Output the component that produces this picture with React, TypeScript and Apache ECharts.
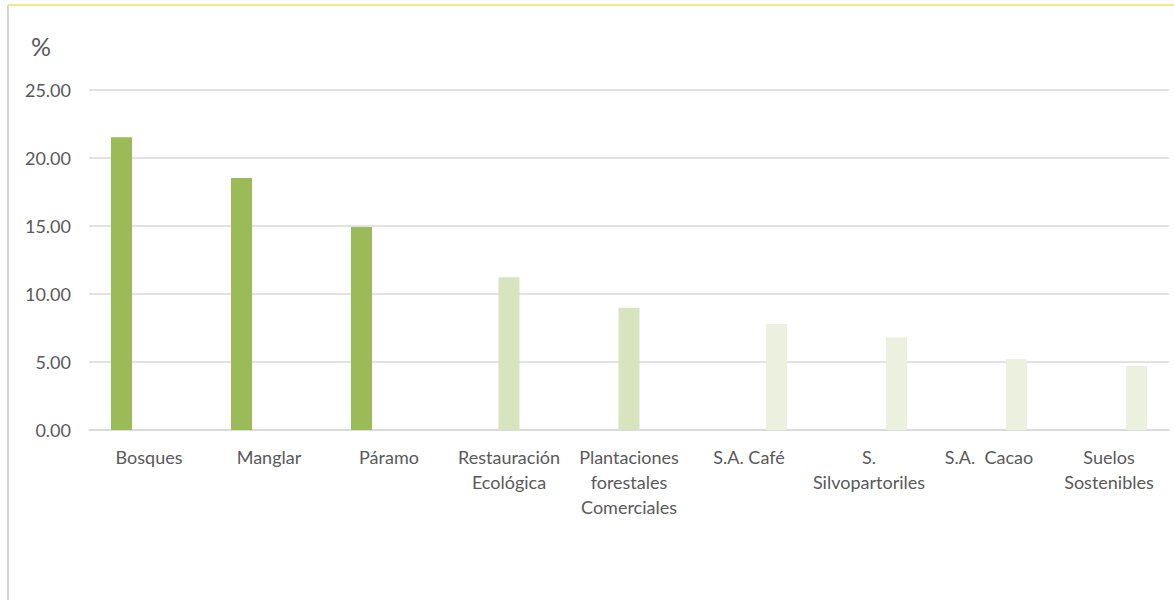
import React, { useEffect, useRef } from "react";
import * as echarts from "echarts";

const categories = [
  "Bosques",
  "Manglar",
  "Páramo",
  "Restauración\nEcológica",
  "Plantaciones\nforestales\nComerciales",
  "S.A. Café",
  "S.\nSilvopartoriles",
  "S.A.  Cacao",
  "Suelos\nSostenibles",
];

const ecosystemValues = [21.52, 18.53, 14.93, null, null, null, null, null, null];
const restorationValues = [null, null, null, 11.23, 8.99, null, null, null, null];
const productiveValues = [null, null, null, null, null, 7.79, 6.81, 5.2, 4.73];

const yTicks = { min: 0, max: 25, interval: 5 };

export default function App() {
  const ref = useRef<HTMLDivElement>(null);

  useEffect(() => {
    if (!ref.current) return;
    const chart = echarts.init(ref.current, undefined, { renderer: "svg" });
    const font = "Lato, 'Open Sans', sans-serif";
    const barCommon = {
      type: "bar" as const,
      barWidth: 21,
      barGap: "31%",
    };
    chart.setOption({
      animation: false,
      backgroundColor: "#ffffff",
      grid: { left: 89, right: 5, top: 90, bottom: 170, containLabel: false },
      graphic: [
        {
          type: "line",
          shape: { x1: 8, y1: 5, x2: 1174, y2: 5 },
          style: { stroke: "#F2E98E", lineWidth: 2 },
        },
        {
          type: "line",
          shape: { x1: 8, y1: 5, x2: 8, y2: 600 },
          style: { stroke: "#D6D6D6", lineWidth: 2 },
        },
        {
          type: "text",
          left: 31,
          top: 33,
          style: { text: "%", fontSize: 25, fill: "#595959", fontFamily: font },
        },
      ],
      xAxis: {
        type: "category",
        data: categories,
        axisLine: { show: true, lineStyle: { color: "#D9D9D9", width: 1.5 } },
        axisTick: { show: false },
        axisLabel: {
          interval: 0,
          color: "#595959",
          fontSize: 18,
          fontFamily: font,
          lineHeight: 25,
          margin: 14,
          align: "center",
        },
      },
      yAxis: {
        type: "value",
        min: yTicks.min,
        max: yTicks.max,
        interval: yTicks.interval,
        axisLine: { show: false },
        axisTick: { show: false },
        splitLine: { lineStyle: { color: "#D9D9D9", width: 1.5 } },
        axisLabel: {
          color: "#595959",
          fontSize: 18,
          fontFamily: font,
          margin: 18,
          formatter: (v: number) => v.toFixed(2),
        },
      },
      series: [
        { ...barCommon, name: "Ecosistemas", data: ecosystemValues, itemStyle: { color: "#9BBB59" } },
        { ...barCommon, name: "Restauración", data: restorationValues, itemStyle: { color: "#D7E4BD" } },
        { ...barCommon, name: "Sistemas productivos", data: productiveValues, itemStyle: { color: "#EBF1DE" } },
      ],
    });
    return () => chart.dispose();
  }, []);

  return (
    <div
      ref={ref}
      style={{ position: "fixed", left: 0, top: 0, width: 1174, height: 600, background: "#fff" }}
    />
  );
}
